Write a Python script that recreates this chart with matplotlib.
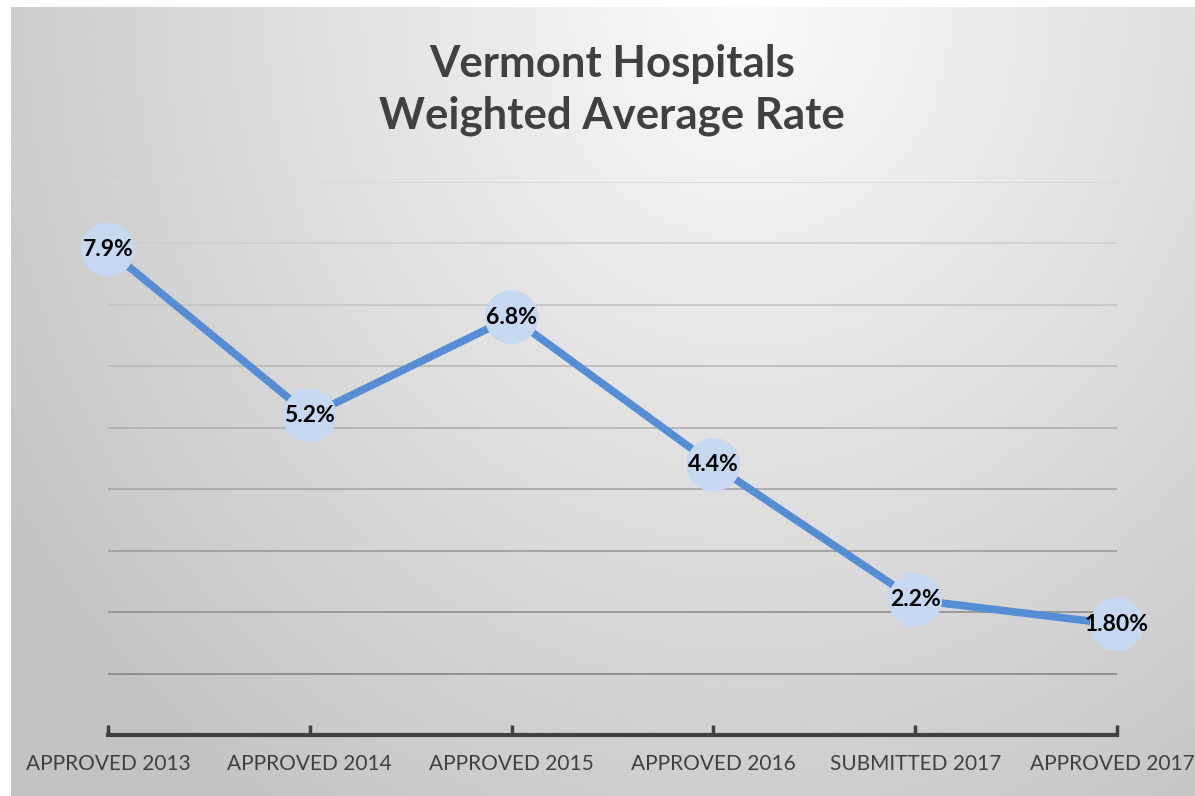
import numpy as np
import matplotlib
matplotlib.use("Agg")
import matplotlib.pyplot as plt
import matplotlib.transforms as mtransforms

# data
categories = ["APPROVED 2013", "APPROVED 2014", "APPROVED 2015",
              "APPROVED 2016", "SUBMITTED 2017", "APPROVED 2017"]
rates = [7.9, 5.2, 6.8, 4.4, 2.2, 1.8]
labels = ["7.9%", "5.2%", "6.8%", "4.4%", "2.2%", "1.80%"]

W, H = 1195, 796
fig = plt.figure(figsize=(W / 100, H / 100), dpi=100)
fig.patch.set_facecolor("white")

# radial grey background
bg = fig.add_axes([11 / W, 0, 1 - 11 / W, 1 - 7 / H])
bg.set_axis_off()
yy, xx = np.mgrid[0:1:400j, 0:1:600j]
d = np.sqrt(((xx - 0.62) / 0.75) ** 2 + ((yy - 0.0) / 1.25) ** 2)
v = 250 - 55 * np.clip(d, 0, 1)
bg.imshow(v, cmap="gray", vmin=0, vmax=255, aspect="auto",
          extent=[0, 1, 1, 0], interpolation="bilinear")
bg.set_xlim(0, 1)
bg.set_ylim(1, 0)

ax = fig.add_axes([108 / W, 61 / H, 1009 / W, 553 / H])
ax.patch.set_alpha(0)
x = np.arange(len(categories))
ax.set_xlim(0, len(categories) - 1)
ax.set_ylim(0, 9)

# gridlines, fading lighter toward the top
for g in range(1, 10):
    c = 0.55 + 0.30 * (g - 1) / 8
    ax.axhline(g, color=(c, c, c), lw=1.3, zorder=1)

ax.plot(x, rates, color="#558ed5", lw=5.5, zorder=2, solid_capstyle="round")
ax.scatter(x, rates, s=1500, color="#c6d9f1", zorder=3, edgecolors="none",
           clip_on=False)
for xi, r, t in zip(x, rates, labels):
    ax.text(xi, r, t, ha="center", va="center", fontsize=16.5,
            fontweight="bold", color="black", family="Lato", zorder=4)

for s in ["top", "right", "left"]:
    ax.spines[s].set_visible(False)
ax.spines["bottom"].set_color("#404040")
ax.spines["bottom"].set_linewidth(3)
ax.set_yticks([])
ax.set_xticks(x)
ax.set_xticklabels(categories, fontsize=15, color="#404040", family="Lato")
ax.tick_params(axis="x", direction="in", length=7, width=2.5, color="#404040", pad=14)

# keep the last label just inside the right edge
last = ax.get_xticklabels()[-1]
last.set_transform(last.get_transform() +
                   mtransforms.ScaledTranslation(-5 / 100, 0, fig.dpi_scale_trans))

fig.text(0.512, 1 - 90 / H, "Vermont Hospitals\nWeighted Average Rate",
         ha="center", va="center", fontsize=31.5, fontweight="bold",
         color="#404040", family="Lato", linespacing=1.35)

fig.savefig("out.png", dpi=100)
